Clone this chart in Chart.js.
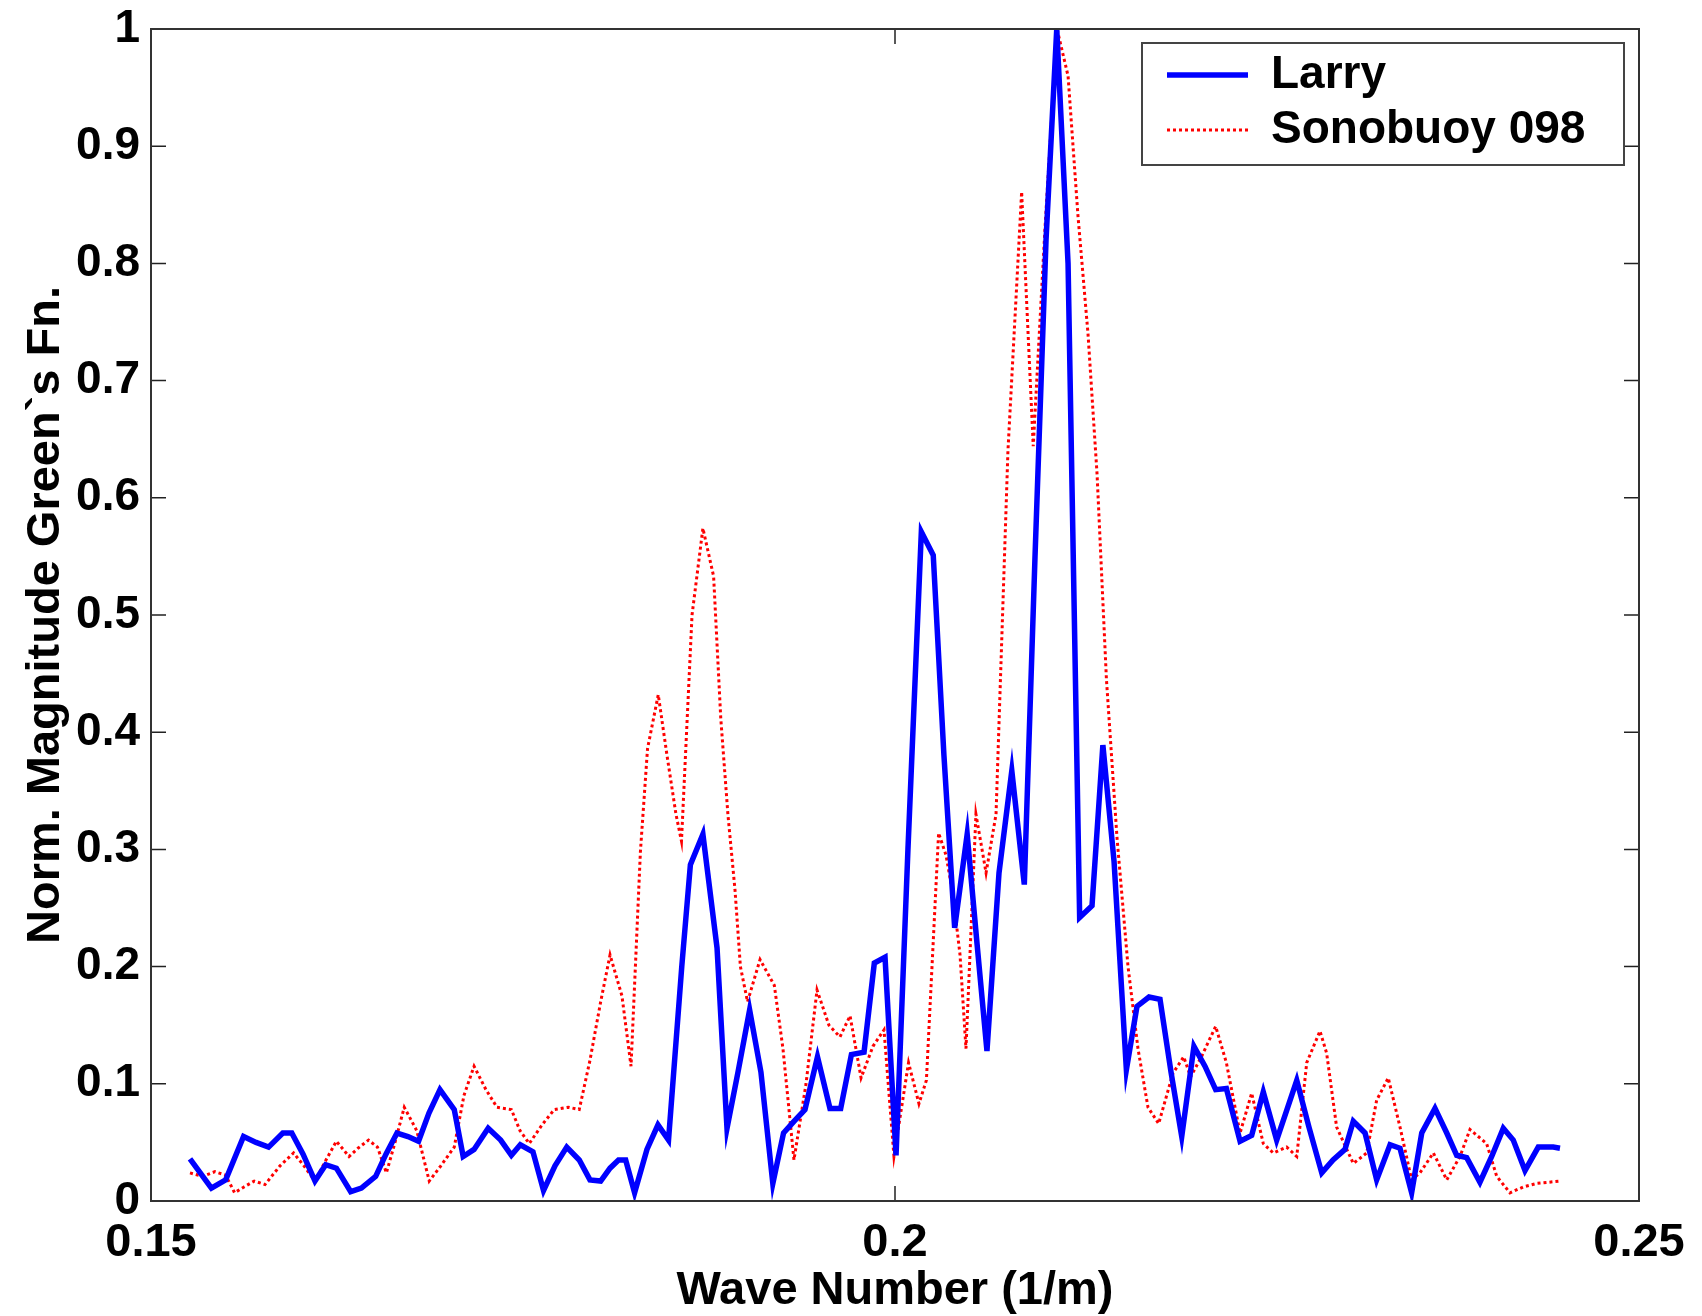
<!DOCTYPE html>
<html>
<head>
<meta charset="utf-8">
<script src="https://cdn.jsdelivr.net/npm/chart.js@4.4.1/dist/chart.umd.min.js"></script>
<style>
  body { margin: 0; background: #fff; }
  canvas { display: block; }
</style>
</head>
<body>
<canvas id="greens" width="1702" height="1316"></canvas>
<script>
// wave number (1/m) and normalised magnitude
var larryK = [0.15262,0.15406,0.15502,0.15622,0.15706,0.15790,0.15886,0.15946,0.16022,0.16102,
  0.16174,0.16246,0.16342,0.16414,0.16510,0.16579,0.16653,0.16727,0.16798,0.16868,
  0.16942,0.17038,0.17098,0.17171,0.17266,0.17350,0.17422,0.17482,0.17567,0.17638,
  0.17715,0.17794,0.17878,0.17950,0.18022,0.18085,0.18142,0.18190,0.18250,0.18333,
  0.18407,0.18478,0.18567,0.18625,0.18709,0.18804,0.18871,0.18945,0.19023,0.19099,
  0.19179,0.19251,0.19321,0.19395,0.19479,0.19563,0.19635,0.19707,0.19792,0.19861,
  0.19933,0.20007,0.20087,0.20177,0.20257,0.20329,0.20401,0.20485,0.20551,0.20618,
  0.20699,0.20785,0.20869,0.20941,0.21015,0.21087,0.21163,0.21241,0.21324,0.21397,
  0.21472,0.21555,0.21626,0.21707,0.21781,0.21855,0.21927,0.22009,0.22083,0.22155,
  0.22227,0.22319,0.22397,0.22475,0.22565,0.22634,0.22700,0.22782,0.22868,0.22944,
  0.23024,0.23080,0.23159,0.23237,0.23327,0.23394,0.23472,0.23540,0.23629,0.23708,
  0.23775,0.23842,0.23931,0.24010,0.24088,0.24155,0.24234,0.24323,0.24424,0.24469];
var larryMag = [0.036,0.011,0.018,0.055,0.050,0.046,0.058,0.058,0.040,0.017,
  0.031,0.028,0.008,0.011,0.021,0.040,0.058,0.055,0.051,0.075,
  0.095,0.078,0.038,0.044,0.062,0.052,0.039,0.048,0.042,0.009,
  0.030,0.046,0.035,0.018,0.017,0.028,0.035,0.035,0.007,0.044,
  0.065,0.052,0.200,0.287,0.313,0.216,0.062,0.110,0.163,0.110,
  0.015,0.058,0.068,0.078,0.123,0.079,0.079,0.125,0.127,0.203,
  0.208,0.039,0.300,0.571,0.551,0.380,0.233,0.313,0.220,0.128,
  0.280,0.367,0.270,0.550,0.820,1.000,0.800,0.242,0.252,0.389,
  0.290,0.112,0.166,0.174,0.172,0.110,0.055,0.132,0.115,0.095,
  0.096,0.051,0.056,0.093,0.052,0.078,0.103,0.063,0.024,0.035,
  0.044,0.068,0.058,0.018,0.048,0.045,0.007,0.058,0.079,0.058,
  0.039,0.037,0.016,0.038,0.062,0.052,0.026,0.046,0.046,0.045];

var buoyK = [0.15262,0.15346,0.15430,0.15502,0.15562,0.15625,0.15694,0.15766,0.15867,0.15958,
  0.16028,0.16102,0.16176,0.16246,0.16331,0.16391,0.16462,0.16522,0.16582,0.16640,
  0.16702,0.16786,0.16870,0.16942,0.17038,0.17103,0.17171,0.17251,0.17325,0.17422,
  0.17480,0.17542,0.17628,0.17710,0.17806,0.17878,0.17950,0.18022,0.18085,0.18165,
  0.18226,0.18289,0.18337,0.18409,0.18468,0.18528,0.18565,0.18636,0.18709,0.18781,
  0.18829,0.18877,0.18925,0.18961,0.19009,0.19093,0.19189,0.19247,0.19321,0.19402,
  0.19476,0.19556,0.19630,0.19698,0.19772,0.19852,0.19926,0.19993,0.20091,0.20161,
  0.20211,0.20293,0.20343,0.20389,0.20437,0.20477,0.20544,0.20612,0.20679,0.20759,
  0.20851,0.20929,0.21008,0.21089,0.21163,0.21230,0.21297,0.21358,0.21421,0.21492,
  0.21566,0.21633,0.21700,0.21772,0.21868,0.21940,0.21987,0.22059,0.22155,0.22227,
  0.22276,0.22319,0.22397,0.22475,0.22542,0.22632,0.22700,0.22767,0.22856,0.22901,
  0.22968,0.23080,0.23170,0.23237,0.23315,0.23394,0.23472,0.23528,0.23618,0.23708,
  0.23797,0.23864,0.23976,0.24044,0.24133,0.24222,0.24312,0.24469];
var buoyMag = [0.024,0.021,0.025,0.022,0.007,0.012,0.017,0.014,0.030,0.041,
  0.030,0.017,0.035,0.051,0.038,0.045,0.052,0.046,0.024,0.050,
  0.080,0.060,0.017,0.029,0.046,0.090,0.115,0.095,0.080,0.078,
  0.060,0.049,0.065,0.078,0.080,0.078,0.120,0.170,0.210,0.175,
  0.115,0.298,0.386,0.432,0.380,0.330,0.307,0.500,0.574,0.533,
  0.412,0.330,0.265,0.200,0.170,0.206,0.184,0.130,0.035,0.100,
  0.180,0.150,0.140,0.158,0.105,0.132,0.146,0.038,0.118,0.083,
  0.103,0.314,0.295,0.262,0.210,0.130,0.330,0.280,0.330,0.640,
  0.861,0.644,0.830,1.000,0.960,0.840,0.740,0.620,0.445,0.310,
  0.200,0.130,0.080,0.066,0.109,0.123,0.106,0.123,0.149,0.118,
  0.086,0.058,0.092,0.049,0.041,0.046,0.038,0.118,0.145,0.126,
  0.063,0.032,0.041,0.086,0.105,0.063,0.018,0.024,0.041,0.018,
  0.038,0.061,0.049,0.021,0.007,0.012,0.015,0.017];

var xTickValues = [0.15, 0.2, 0.25];
var xTickLabels = ['0.15', '0.2', '0.25'];
var yTickValues = [0, 0.1, 0.2, 0.3, 0.4, 0.5, 0.6, 0.7, 0.8, 0.9, 1];
var yTickLabels = ['0', '0.1', '0.2', '0.3', '0.4', '0.5', '0.6', '0.7', '0.8', '0.9', '1'];

function pairs(xs, ys) {
  return xs.map(function (x, i) { return { x: x, y: ys[i] }; });
}

Chart.defaults.font.family = "'Liberation Sans', Arial, Helvetica, sans-serif";
Chart.defaults.font.weight = 'bold';
Chart.defaults.color = '#000';

// box round the axes, inward tick marks, and the framed legend inside the plot
var axesBox = {
  id: 'axesBox',
  afterLayout: function (chart) {
    var lg = chart.legend, a = chart.chartArea;
    lg.left = a.right - 481;
    lg.top = a.top + 14;
    lg.width = 466;
    lg.height = 122;
    lg.right = lg.left + lg.width;
    lg.bottom = lg.top + lg.height;
  },
  afterDraw: function (chart) {
    var ctx = chart.ctx, a = chart.chartArea;
    var sx = chart.scales.x, sy = chart.scales.y;
    var len = 15;
    ctx.save();
    ctx.strokeStyle = '#222';
    ctx.lineWidth = 1.5;
    ctx.beginPath();
    sx.ticks.forEach(function (t) {
      var px = sx.getPixelForValue(t.value);
      ctx.moveTo(px, a.bottom); ctx.lineTo(px, a.bottom - len);
      ctx.moveTo(px, a.top); ctx.lineTo(px, a.top + len);
    });
    sy.ticks.forEach(function (t) {
      var py = sy.getPixelForValue(t.value);
      ctx.moveTo(a.left, py); ctx.lineTo(a.left + len, py);
      ctx.moveTo(a.right, py); ctx.lineTo(a.right - len, py);
    });
    ctx.stroke();
    ctx.strokeStyle = '#333';
    ctx.lineWidth = 2;
    ctx.strokeRect(a.left, a.top, a.right - a.left, a.bottom - a.top);
    var lg = chart.legend;
    ctx.strokeStyle = '#444';
    ctx.strokeRect(lg.left - 16, lg.top, lg.width + 16, lg.height);
    ctx.restore();
  }
};

new Chart(document.getElementById('greens'), {
  type: 'line',
  data: {
    datasets: [{
      label: 'Larry',
      data: pairs(larryK, larryMag),
      borderColor: '#0000ff',
      backgroundColor: '#0000ff',
      borderWidth: 5.5,
      pointRadius: 0,
      tension: 0,
      fill: false
    }, {
      label: 'Sonobuoy 098',
      data: pairs(buoyK, buoyMag),
      borderColor: '#ff0000',
      backgroundColor: '#ff0000',
      borderWidth: 3,
      borderDash: [3, 3],
      pointRadius: 0,
      tension: 0,
      fill: false
    }]
  },
  options: {
    responsive: false,
    animation: false,
    devicePixelRatio: 1,
    layout: { padding: { top: 29, right: 63, left: 0, bottom: 0 } },
    plugins: {
      tooltip: { enabled: false },
      legend: {
        position: 'chartArea',
        align: 'start',
        labels: {
          usePointStyle: true,
          pointStyle: 'line',
          pointStyleWidth: 81,
          padding: 9,
          color: '#000',
          font: { size: 46, weight: 'bold' },
          generateLabels: function (chart) {
            var items = Chart.defaults.plugins.legend.labels.generateLabels(chart);
            items.forEach(function (it) {
              var ds = chart.data.datasets[it.datasetIndex];
              it.lineDash = ds.borderDash || [];
              it.lineWidth = ds.borderWidth;
              it.strokeStyle = ds.borderColor;
            });
            return items;
          }
        }
      }
    },
    scales: {
      x: {
        type: 'linear',
        min: 0.15,
        max: 0.25,
        afterBuildTicks: function (scale) {
          scale.ticks = xTickValues.map(function (v) { return { value: v }; });
        },
        afterFit: function (scale) { scale.height = 115; },
        grid: { display: false, drawTicks: false },
        border: { display: false },
        ticks: {
          padding: 14,
          maxRotation: 0,
          color: '#000',
          font: { size: 47, weight: 'bold' },
          callback: function (v, i) { return xTickLabels[i]; }
        },
        title: {
          display: true,
          text: 'Wave Number (1/m)',
          color: '#000',
          font: { size: 47, weight: 'bold', lineHeight: 1 },
          padding: { top: 0, bottom: 1 }
        }
      },
      y: {
        min: 0,
        max: 1,
        afterBuildTicks: function (scale) {
          scale.ticks = yTickValues.map(function (v) { return { value: v }; });
        },
        afterFit: function (scale) {
          scale.width = 151;
          scale.paddingTop = 0;
          scale.paddingBottom = 0;
        },
        grid: { display: false, drawTicks: false },
        border: { display: false },
        ticks: {
          padding: 11,
          color: '#000',
          font: { size: 46, weight: 'bold' },
          callback: function (v, i) { return yTickLabels[i]; }
        },
        title: {
          display: true,
          text: 'Norm. Magnitude Green`s Fn.',
          color: '#000',
          font: { size: 47, weight: 'bold', lineHeight: 1.2 },
          padding: { top: 18, bottom: 0 }
        }
      }
    }
  },
  plugins: [axesBox]
});
</script>
</body>
</html>
